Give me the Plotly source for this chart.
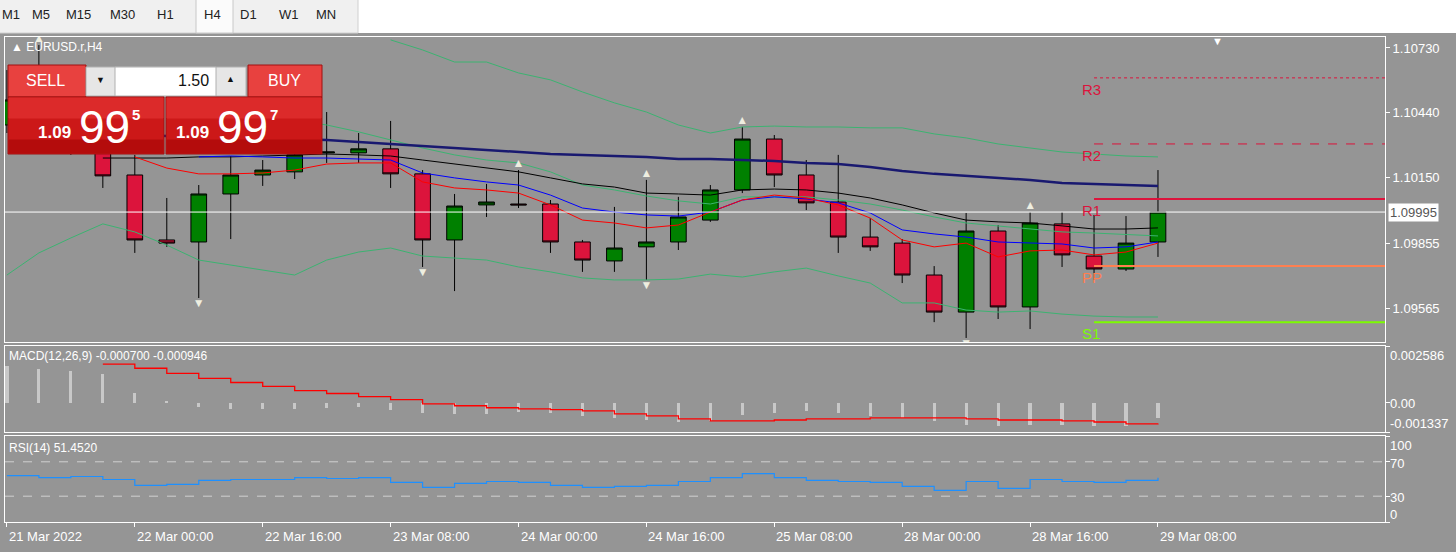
import plotly.graph_objects as go

W, H = 1456, 552
BG = "#959595"
FONT = "Liberation Sans"

# ---------------- data ----------------
bar_idx = list(range(37))
tick_idx = [0, 4, 8, 12, 16, 20, 24, 28, 32, 36]
tick_text = ["21 Mar 2022", "22 Mar 00:00", "22 Mar 16:00", "23 Mar 08:00", "24 Mar 00:00",
             "24 Mar 16:00", "25 Mar 08:00", "28 Mar 00:00", "28 Mar 16:00", "29 Mar 08:00"]

opens = [1.10385, 1.10497, 1.10519, 1.10273, 1.10161, 1.09870, 1.09861, 1.10076, 1.10161, 1.10175,
         1.10260, 1.10260, 1.10278, 1.10166, 1.09870, 1.10027, 1.10031, 1.10031, 1.09861, 1.09776,
         1.09839, 1.09861, 1.09959, 1.10094, 1.10322, 1.10161, 1.10040, 1.09883, 1.09856, 1.09713,
         1.09547, 1.09910, 1.09570, 1.09942, 1.09798, 1.09740, 1.09861]
highs = [1.10631, 1.10743, 1.10542, 1.10322, 1.10251, 1.10058, 1.10116, 1.10246, 1.10228, 1.10273,
         1.10443, 1.10349, 1.10403, 1.10183, 1.10076, 1.10121, 1.10183, 1.10049, 1.09870, 1.10018,
         1.10139, 1.10063, 1.10116, 1.10376, 1.10340, 1.10228, 1.10251, 1.09968, 1.09874, 1.09753,
         1.09991, 1.09937, 1.09995, 1.09995, 1.09982, 1.09977, 1.10183]
lows = [1.10349, 1.10376, 1.10251, 1.10103, 1.09812, 1.09839, 1.09610, 1.09874, 1.10112, 1.10143,
        1.10215, 1.10215, 1.10103, 1.09749, 1.09641, 1.09973, 1.10013, 1.09812, 1.09727, 1.09727,
        1.09691, 1.09825, 1.09951, 1.10080, 1.10107, 1.10004, 1.09812, 1.09821, 1.09677, 1.09502,
        1.09431, 1.09516, 1.09471, 1.09749, 1.09691, 1.09731, 1.09794]
closes = [1.10497, 1.10542, 1.10273, 1.10157, 1.09870, 1.09856, 1.10076, 1.10161, 1.10183, 1.10251,
          1.10264, 1.10278, 1.10166, 1.09870, 1.10022, 1.10040, 1.10027, 1.09861, 1.09780, 1.09834,
          1.09861, 1.09973, 1.10094, 1.10322, 1.10161, 1.10036, 1.09883, 1.09839, 1.09713, 1.09547,
          1.09910, 1.09570, 1.09946, 1.09803, 1.09740, 1.09856, 1.09995]

N = None
ma_navy = [N]*4 + [1.10340, 1.10336, 1.10331, 1.10327, 1.10322, 1.10322, 1.10318, 1.10309, 1.10300,
                   1.10291, 1.10282, 1.10273, 1.10264, 1.10255, 1.10251, 1.10246, 1.10242, 1.10233,
                   1.10233, 1.10228, 1.10224, 1.10215, 1.10210, 1.10197, 1.10179, 1.10166, 1.10157,
                   1.10148, 1.10139, 1.10125, 1.10121, 1.10116, 1.10112]
ma_black = [N]*3 + [1.10237, 1.10237, 1.10237, 1.10242, 1.10242, 1.10246, 1.10251, 1.10255, 1.10251,
                    1.10246, 1.10228, 1.10210, 1.10192, 1.10175, 1.10148, 1.10121, 1.10107, 1.10080,
                    1.10076, 1.10071, 1.10094, 1.10098, 1.10094, 1.10080, 1.10058, 1.10027, 1.09991,
                    1.09959, 1.09951, 1.09946, 1.09933, 1.09919, 1.09919, 1.09924]
ma_blue = [N]*6 + [1.10242, 1.10246, 1.10242, 1.10237, 1.10237, 1.10233, 1.10228, 1.10170, 1.10148,
                   1.10130, 1.10116, 1.10071, 1.10013, 1.09995, 1.09982, 1.09977, 1.09995, 1.10049,
                   1.10063, 1.10054, 1.10036, 1.09991, 1.09915, 1.09897, 1.09883, 1.09861, 1.09856,
                   1.09852, 1.09834, 1.09839, 1.09861]
ma_red = [N]*4 + [1.10242, 1.10192, 1.10166, 1.10166, 1.10170, 1.10183, 1.10210, 1.10215, 1.10215,
                  1.10130, 1.10103, 1.10094, 1.10080, 1.10027, 1.09959, 1.09946, 1.09924, 1.09937,
                  1.09995, 1.10049, 1.10071, 1.10058, 1.10027, 1.09968, 1.09870, 1.09839, 1.09856,
                  1.09794, 1.09821, 1.09825, 1.09803, 1.09816, 1.09856]
bb_upper = [N]*12 + [1.10766, 1.10721, 1.10667, 1.10667, 1.10618, 1.10587, 1.10533, 1.10484, 1.10443,
                     1.10385, 1.10349, 1.10376, 1.10380, 1.10376, 1.10376, 1.10372, 1.10372, 1.10345,
                     1.10327, 1.10300, 1.10282, 1.10264, 1.10255, 1.10246, 1.10242]
bb_mid = [N]*9 + [1.10407, 1.10385, 1.10354, 1.10318, 1.10282, 1.10251, 1.10228, 1.10215, 1.10175,
                  1.10116, 1.10094, 1.10067, 1.10045, 1.10031, 1.10063, 1.10063, 1.10063, 1.10049,
                  1.10031, 1.10004, 1.09973, 1.09946, 1.09933, 1.09919, 1.09906, 1.09901, 1.09893,
                  1.09888]
bb_lower = [1.09713, 1.09812, 1.09879, 1.09942, 1.09906, 1.09847, 1.09780, 1.09758, 1.09735, 1.09713,
            1.09780, 1.09816, 1.09834, 1.09798, 1.09789, 1.09780, 1.09749, 1.09727, 1.09700, 1.09691,
            1.09691, 1.09695, 1.09717, 1.09704, 1.09727, 1.09744, 1.09709, 1.09677, 1.09588, 1.09588,
            1.09556, 1.09547, 1.09552, 1.09538, 1.09529, 1.09525, 1.09525]

fractal_up_idx = [1, 16, 20, 23, 32]
fractal_dn_idx = [6, 13, 20, 30]

pivot_names = ["R3", "R2", "R1", "PP", "S1"]
pivot_values = [1.10596, 1.10300, 1.10053, 1.09753, 1.09502]
pivot_colors = ["#dc143c", "#dc143c", "#dc143c", "#ff7f50", "#7cfc00"]
pivot_dash = ["dot", "dash", "solid", "solid", "solid"]
pivot_width = [1, 1, 2, 2, 2]
pivot_start = 34

last_price = 1.09995
price_ticks = [1.10730, 1.10440, 1.10150, 1.09855, 1.09565]

macd_hist = [0.00166, 0.00152, 0.00143, 0.00129, 0.00046, 0.00005, -0.00018, -0.00028, -0.00028, -0.00028,
             -0.00023, -0.00018, -0.00032, -0.00046, -0.00051, -0.00051, -0.00042, -0.00046, -0.00060, -0.00069,
             -0.00079, -0.00088, -0.00083, -0.00055, -0.00046, -0.00037, -0.00046, -0.00060, -0.00069, -0.00083,
             -0.00102, -0.00106, -0.00102, -0.00102, -0.00106, -0.00106, -0.00070]
macd_signal = [N]*3 + [0.00176, 0.00157, 0.00134, 0.00111, 0.00092, 0.00074, 0.00055, 0.00042, 0.00028,
                       0.00014, -0.00005, -0.00014, -0.00023, -0.00028, -0.00032, -0.00037, -0.00051,
                       -0.00060, -0.00074, -0.00083, -0.00083, -0.00079, -0.00074, -0.00074, -0.00069,
                       -0.00069, -0.00069, -0.00074, -0.00079, -0.00079, -0.00083, -0.00088, -0.00097,
                       -0.000946]
macd_max, macd_min = 0.002586, -0.001337
macd_labels = ["0.002586", "0.00", "-0.001337"]

rsi = [54.0, 51.7, 52.9, 49.4, 42.5, 43.7, 48.3, 49.4, 49.4, 51.7, 50.6, 51.7, 46.0, 40.2, 44.8, 47.1,
       46.0, 42.5, 40.2, 41.4, 42.5, 47.1, 51.7, 56.3, 51.7, 48.3, 47.1, 46.0, 41.4, 36.8, 47.1, 39.1,
       49.4, 47.1, 46.0, 48.3, 51.45]
rsi_levels = [70, 30]
rsi_labels = ["100", "70", "30", "0"]

timeframes = ["M1", "M5", "M15", "M30", "H1", "H4", "D1", "W1", "MN"]
tf_x = [0, 30, 64, 108, 155, 202, 238, 277, 314]

# ---------------- helpers (layout positions in px) ----------------
def px(x):
    return x / W

def py(y):
    return 1 - y / H

def label(x, y, text, color="white", size=13, xanchor="left", bold=False, xref="paper", yref="paper", **kw):
    fig.add_annotation(x=x, y=y, xref=xref, yref=yref, text=("<b>%s</b>" % text) if bold else text,
                       showarrow=False, xanchor=xanchor, yanchor=kw.pop("yanchor", "middle"),
                       font=dict(color=color, size=size, family=FONT), **kw)

XR = [-0.06, 43.1]
fig = go.Figure()

fig.add_trace(go.Candlestick(
    x=bar_idx, open=opens, high=highs, low=lows, close=closes,
    increasing=dict(fillcolor="#008000", line=dict(color="#000000", width=1)),
    decreasing=dict(fillcolor="#dc143c", line=dict(color="#000000", width=1)),
    whiskerwidth=0, xaxis="x", yaxis="y", showlegend=False, hoverinfo="skip"))

for vals, col, w in [(bb_upper, "#3cb371", 1), (bb_mid, "#3cb371", 1), (bb_lower, "#3cb371", 1),
                     (ma_navy, "#191970", 2.5), (ma_black, "#000000", 1),
                     (ma_blue, "#0000ff", 1), (ma_red, "#ff0000", 1)]:
    fig.add_trace(go.Scatter(x=bar_idx, y=vals, mode="lines", line=dict(color=col, width=w),
                             xaxis="x", yaxis="y", showlegend=False, hoverinfo="skip"))

fig.add_trace(go.Scatter(x=fractal_up_idx, y=[highs[i] for i in fractal_up_idx], mode="text",
                         text=["▲"]*len(fractal_up_idx), textposition="top center",
                         textfont=dict(color="#eeeee0", size=12), xaxis="x", yaxis="y", showlegend=False))
fig.add_trace(go.Scatter(x=fractal_dn_idx, y=[lows[i] for i in fractal_dn_idx], mode="text",
                         text=["▼"]*len(fractal_dn_idx), textposition="bottom center",
                         textfont=dict(color="#eeeee0", size=12), xaxis="x", yaxis="y", showlegend=False))

fig.add_trace(go.Scatter(x=XR, y=[last_price, last_price], mode="lines", line=dict(color="white", width=1),
                         xaxis="x", yaxis="y", showlegend=False, hoverinfo="skip"))

for name, val, col, dsh, w in zip(pivot_names, pivot_values, pivot_colors, pivot_dash, pivot_width):
    fig.add_trace(go.Scatter(x=[pivot_start, XR[1]], y=[val, val], mode="lines",
                             line=dict(color=col, width=w, dash=dsh), xaxis="x", yaxis="y",
                             showlegend=False, hoverinfo="skip"))
    label(pivot_start - 0.45, val, name, color=col, size=15, xref="x", yref="y", yanchor="top", yshift=-1)

# MACD
fig.add_trace(go.Bar(x=bar_idx, y=macd_hist, marker=dict(color="#c8c8c8", line=dict(width=0)), width=0.1,
                     xaxis="x2", yaxis="y2", showlegend=False, hoverinfo="skip"))
fig.add_trace(go.Scatter(x=bar_idx, y=macd_signal, mode="lines", line=dict(color="#ff0000", width=1.3, shape="hv"),
                         xaxis="x2", yaxis="y2", showlegend=False, hoverinfo="skip"))
# RSI
fig.add_trace(go.Scatter(x=bar_idx, y=rsi, mode="lines", line=dict(color="#1e90ff", width=1.2, shape="hv"),
                         xaxis="x3", yaxis="y3", showlegend=False, hoverinfo="skip"))
for lv in rsi_levels:
    fig.add_shape(type="line", xref="x3", yref="y3", x0=XR[0], x1=XR[1], y0=lv, y1=lv,
                  line=dict(color="#d0d0d0", width=1, dash="dash"))

ax_common = dict(showgrid=False, zeroline=False, showline=True, mirror=True, linecolor="white", linewidth=1,
                 range=XR, fixedrange=True)
xd = [px(5), px(1385)]
y_common = dict(showgrid=False, zeroline=False, showline=True, mirror=True, linecolor="white", side="right",
                ticks="outside", ticklen=4, tickcolor="white", tickfont=dict(color="white", size=13, family=FONT),
                fixedrange=True)

fig.update_layout(
    width=W, height=H, margin=dict(l=0, r=0, t=0, b=0),
    paper_bgcolor=BG, plot_bgcolor=BG, bargap=0,
    xaxis=dict(domain=xd, anchor="y", showticklabels=False, rangeslider=dict(visible=False), **ax_common),
    xaxis2=dict(domain=xd, anchor="y2", showticklabels=False, **ax_common),
    xaxis3=dict(domain=xd, anchor="y3", tickvals=tick_idx, ticktext=[""]*len(tick_idx), ticks="outside",
                ticklen=4, tickcolor="white", **ax_common),
    yaxis=dict(domain=[py(342), py(37)], anchor="x", range=[1.09413, 1.10779],
               tickvals=price_ticks, ticktext=[f"{v:.5f}" for v in price_ticks], **y_common),
    yaxis2=dict(domain=[py(432), py(346)], anchor="x2", range=[macd_min, macd_max],
                tickvals=[macd_max, 0, macd_min], ticktext=["", "", ""], **y_common),
    yaxis3=dict(domain=[py(522), py(436)], anchor="x3", range=[0, 100],
                tickvals=[100, 70, 30, 0], ticktext=["", "", "", ""], **y_common),
)

# side labels for MACD / RSI (placed inside panel like the terminal does)
for lab, yy in zip(macd_labels, [355, 403, 423]):
    label(px(1388), py(yy), lab)
for lab, yy in zip(rsi_labels, [445, 463, 497, 514]):
    label(px(1388), py(yy), lab)

# time labels, left aligned at ticks
for i, t in zip(tick_idx, tick_text):
    label(i, py(536), t, xref="x3")

# last price box
fig.add_annotation(x=px(1388), y=last_price, xref="paper", yref="y", text="1.09995", showarrow=False,
                   xanchor="left", yanchor="middle", bgcolor="white",
                   font=dict(color="#555555", size=13, family=FONT), borderpad=1)

# panel titles
label(px(9), py(47), "▲ EURUSD.r,H4", size=12)
label(px(7), py(356), "MACD(12,26,9) -0.000700 -0.000946", size=12)
label(px(7), py(448), "RSI(14) 51.4520", size=12)
label(px(1217), py(41), "▼", size=11, xanchor="center")

# toolbar
fig.add_shape(type="rect", xref="paper", yref="paper", x0=0, x1=1, y0=py(33), y1=1, fillcolor="#ffffff",
              line=dict(width=0), layer="above")
fig.add_shape(type="rect", xref="paper", yref="paper", x0=-0.01, x1=px(358), y0=py(33), y1=1.01,
              fillcolor="#f0f0f0", line=dict(color="#d0d0d0", width=1), layer="above")
fig.add_shape(type="rect", xref="paper", yref="paper", x0=px(196), x1=px(233), y0=py(33), y1=1.01,
              fillcolor="#fbfbfb", line=dict(color="#c8c8c8", width=1), layer="above")
for t, x in zip(timeframes, tf_x):
    label(px(x), py(14), t, color="#222222", size=13)

# trade panel
def box(x0, y0, x1, y1, fill, line="#a01010"):
    fig.add_shape(type="rect", xref="paper", yref="paper", x0=px(x0), x1=px(x1), y0=py(y1), y1=py(y0),
                  fillcolor=fill, line=dict(color=line, width=1), layer="above")

box(8, 65, 86, 97, "#e8413f")
box(248, 65, 322, 97, "#e8413f")
box(86, 67, 246, 96, "#e6e6e6", "#b0b0b0")
box(115, 67, 216, 96, "#ffffff", "#b0b0b0")
box(8, 97, 164, 154, "#cc1818")
box(166, 97, 322, 154, "#cc1818")
box(9, 98, 163, 118, "#dc2a2a", "#dc2a2a")
box(167, 98, 321, 118, "#dc2a2a", "#dc2a2a")
box(9, 140, 163, 153, "#b40c0c", "#b40c0c")
box(167, 140, 321, 153, "#b40c0c", "#b40c0c")
label(px(45), py(81), "SELL", size=16, xanchor="center")
label(px(284), py(81), "BUY", size=16, xanchor="center")
label(px(211), py(81), "1.50", color="#111111", size=16, xanchor="right")
label(px(100), py(80), "▼", color="#111111", size=9, xanchor="center")
label(px(230), py(79), "▲", color="#111111", size=9, xanchor="center")
for x0, sup in [(36, "5"), (174, "7")]:
    label(px(x0), py(133), "1.09", size=17, bold=True)
    label(px(x0 + 41), py(127), "99", size=46)
    label(px(x0 + 94), py(114), sup, size=15, bold=True)

fig.write_html("out.html", config={"displayModeBar": False},
               post_script="document.body.style.margin='0';document.body.style.overflow='hidden';")
